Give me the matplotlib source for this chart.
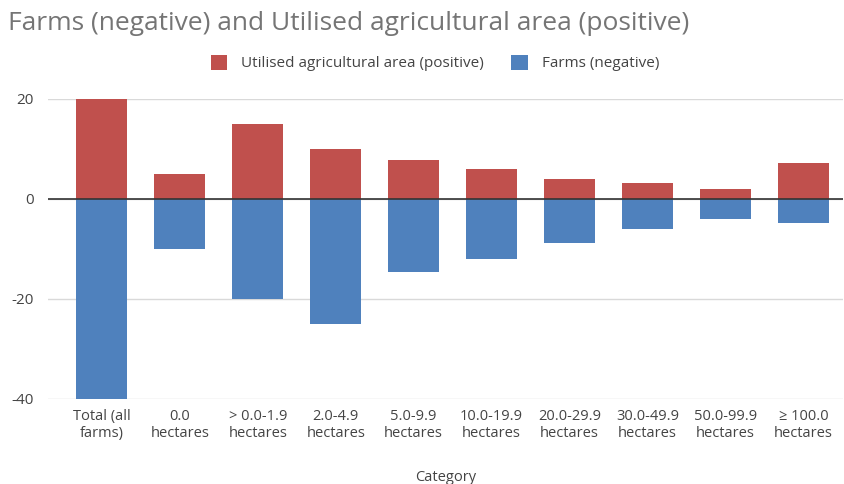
import matplotlib
matplotlib.use('Agg')
import matplotlib.pyplot as plt
import numpy as np

categories = ['Total (all\nfarms)', '0.0\nhectares', '> 0.0-1.9\nhectares', '2.0-4.9\nhectares',
              '5.0-9.9\nhectares', '10.0-19.9\nhectares', '20.0-29.9\nhectares',
              '30.0-49.9\nhectares', '50.0-99.9\nhectares', '\u2265 100.0\nhectares']
area_pos = [20, 5, 15, 10, 7.8, 5.9, 3.9, 3.1, 2.0, 7.1]
farms_neg = [-40, -10, -20, -25, -14.7, -12, -8.9, -6, -4, -4.9]
y_ticks = [-40, -20, 0, 20]

plt.rcParams['font.family'] = ['Open Sans', 'DejaVu Sans']

fig = plt.figure(figsize=(8.45, 4.84), dpi=100, facecolor='white')
ax = fig.add_axes([48 / 845, 1 - 399 / 484, (842.5 - 48) / 845, 300 / 484])

x = np.arange(len(categories))
ax.bar(x, area_pos, width=0.655, color='#C0504D', label='Utilised agricultural area (positive)', zorder=3)
ax.bar(x, farms_neg, width=0.655, color='#4F81BD', label='Farms (negative)', zorder=3)

ax.set_ylim(-40, 20)
ax.set_xlim(-0.69, 9.5)
ax.set_yticks(y_ticks)
ax.set_yticklabels([str(v) for v in y_ticks])
ax.yaxis.grid(True, color='#d9d9d9', linewidth=1, zorder=0)
ax.axhline(0, color='#333333', linewidth=1.2, zorder=4)
ax.set_xticks(x)
ax.set_xticklabels(categories, fontsize=10.5, color='#444444', linespacing=1.2)
ax.tick_params(axis='both', length=0, pad=7)
ax.tick_params(axis='y', labelsize=11, labelcolor='#444444', pad=10)
for s in ax.spines.values():
    s.set_visible(False)

ax.set_xlabel('Category', fontsize=10.5, color='#444444', labelpad=21)

fig.text(8 / 845, 1 - 23 / 484, 'Farms (negative) and Utilised agricultural area (positive)',
         fontsize=19, color='#757575', va='center', ha='left')

fig.legend(loc='center', bbox_to_anchor=(435 / 845, 1 - 63 / 484), ncol=2, frameon=False,
           fontsize=11, handlelength=1.1, handleheight=1.2, columnspacing=1.8, handletextpad=0.9,
           labelcolor='#444444')

fig.savefig('out.png', dpi=100, facecolor='white')
